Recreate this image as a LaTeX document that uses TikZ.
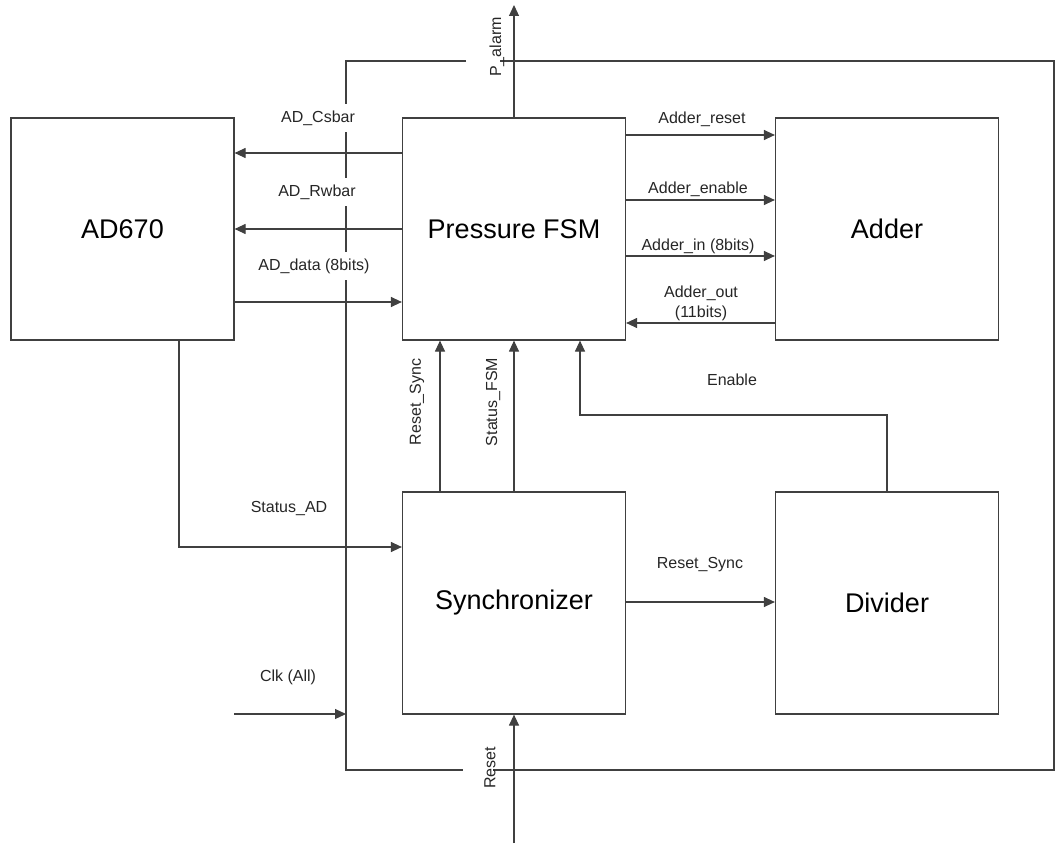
\documentclass[tikz,border=0pt]{standalone}
\usepackage{fontspec}
\setmainfont{Liberation Sans}
\usetikzlibrary{arrows.meta,calc}
\tikzset{
  blk/.style={draw=black!75, line width=1.2pt, minimum width=223pt, minimum height=222pt, inner sep=0pt, font=\fontsize{27}{30}\selectfont},
  wire/.style={draw=black!75, line width=1.2pt},
  arr/.style={wire, -{Triangle[length=11pt,width=10pt]}},
  lbl/.style={font=\fontsize{16}{18}\selectfont, inner sep=1pt, text=black!85},
  lblw/.style={lbl, fill=white, inner xsep=2pt, inner ysep=7pt},
  vlbl/.style={lbl, rotate=90}
}
\begin{document}
\begin{tikzpicture}[x=1pt,y=-1pt]
\useasboundingbox (0,0) rectangle (1057,850);
% blocks
\node[blk] (ad) at (122.5,229) {AD670};
\node[blk] (fsm) at (514,229) {Pressure FSM};
\node[blk] (adder) at (887,229) {Adder};
\node[blk] (sync) at (514,603) {Synchronizer};
\node[blk] (div) at (887,603) {Divider};
% helper coordinates
\coordinate (ycs) at (0,153);
\coordinate (yrw) at (0,229);
\coordinate (ydat) at (0,302);
\coordinate (yar) at (0,135);
\coordinate (yae) at (0,200);
\coordinate (yai) at (0,256);
\coordinate (yao) at (0,323);
\coordinate (xrs) at (440,0);
\coordinate (xad) at (179,0);
\coordinate (sad) at (0,547);
\coordinate (yrs) at (0,602);
\coordinate (en) at (580,415);
\coordinate (palarm) at (514,5);
\coordinate (rstin) at (514,843);
\coordinate (clkin) at (234,714);
\coordinate (clkjoin) at (346,714);
\coordinate (lpA) at (466,61);
\coordinate (lpB) at (346,61);
\coordinate (lpC) at (346,770);
\coordinate (lpD) at (463,770);
\coordinate (lpE) at (500,61);
\coordinate (lpF) at (1054,61);
\coordinate (lpG) at (1054,770);
\coordinate (lpH) at (493,770);
% clock loop
\draw[wire] (lpA) -- (lpB) -- (lpC) -- (lpD);
\draw[wire] (lpE) -- (lpF) -- (lpG) -- (lpH);
\draw[arr] (clkin) -- (clkjoin);
% FSM <-> AD670
\draw[arr] (fsm.west |- ycs) -- (ad.east |- ycs);
\draw[arr] (fsm.west |- yrw) -- (ad.east |- yrw);
\draw[arr] (ad.east |- ydat) -- (fsm.west |- ydat);
% FSM <-> Adder
\draw[arr] (fsm.east |- yar) -- (adder.west |- yar);
\draw[arr] (fsm.east |- yae) -- (adder.west |- yae);
\draw[arr] (fsm.east |- yai) -- (adder.west |- yai);
\draw[arr] (adder.west |- yao) -- (fsm.east |- yao);
% outputs/inputs
\draw[arr] (fsm.north) -- (palarm);
\draw[arr] (rstin) -- (sync.south);
% Sync -> FSM
\draw[arr] (sync.north -| xrs) -- (fsm.south -| xrs);
\draw[arr] (sync.north) -- (fsm.south);
% Divider -> FSM
\draw[arr] (div.north) |- (en) -- (fsm.south -| en);
% AD670 -> Sync
\draw[arr] (ad.south -| xad) |- (sync.west |- sad);
% Sync -> Divider
\draw[arr] (sync.east |- yrs) -- (div.west |- yrs);
% labels
\node[lblw] (lcs) at (318,118) {AD\_Csbar};
\node[lblw] (lrw) at (317,192) {AD\_Rwbar};
\node[lblw] (ldat) at (314,266) {AD\_data (8bits)};
\node[lbl] (lar) at (702,119) {Adder\_reset};
\node[lbl] (lae) at (698,189) {Adder\_enable};
\node[lbl] (lai) at (698,246) {Adder\_in (8bits)};
\node[lbl] (lao) at (701,293) {Adder\_out};
\node[lbl] (lao2) at (701,313) {(11bits)};
\node[lbl] (len) at (732,380) {Enable};
\node[lbl] (lsad) at (289,509) {Status\_AD};
\node[lbl] (lrsh) at (700,565) {Reset\_Sync};
\node[lbl] (lclk) at (288,677) {Clk (All)};
\node[vlbl] (lpal) at (497,47) {P\_alarm};
\node[vlbl] (lrsv) at (417,402) {Reset\_Sync};
\node[vlbl] (lsfsm) at (493,402) {Status\_FSM};
\node[vlbl] (lrst) at (490,768) {Reset};
\end{tikzpicture}
\end{document}
